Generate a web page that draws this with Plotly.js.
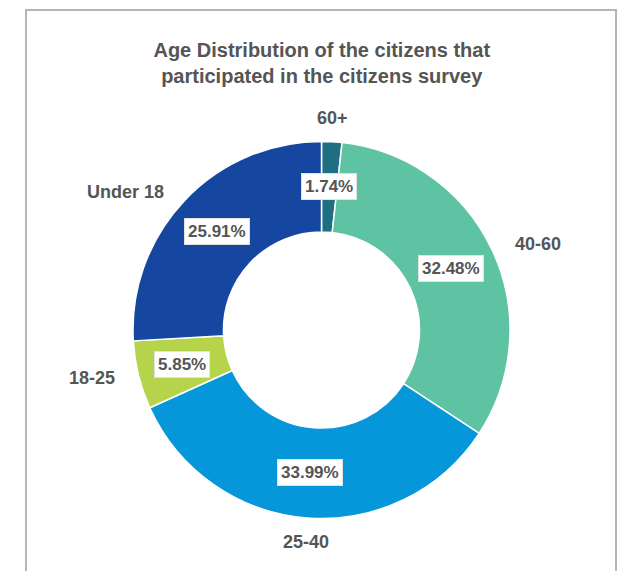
<!DOCTYPE html>
<html>
<head>
<meta charset="utf-8">
<script src="https://cdn.plot.ly/plotly-3.0.1.min.js"></script>
<style>
  html, body { margin: 0; padding: 0; background: #ffffff; }
  #chart { width: 620px; height: 571px; }
</style>
</head>
<body>
<div id="chart"></div>
<script>
// ---- Data (clockwise from 12 o'clock) ----
const ageGroups = ['60+', '40-60', '25-40', '18-25', 'Under 18'];
const sharePercent = [1.74, 32.48, 33.99, 5.85, 25.91];
const sliceColors = ['#1f6f82', '#5dc3a3', '#0597d9', '#b6d34c', '#1546a0'];

const titleText = 'Age Distribution of the citizens that<br>participated in the citizens survey';

// ---- Layout geometry / styles ----
const W = 620, H = 571;
const domainX = [0.2145, 0.8226];
const domainY = [0.0919, 0.7522];
const holeFrac = 0.52;
const labelGap = 12;
const sideShift = 10;
const textColor = '#555555';
const fontFamily = 'Liberation Sans, Arial, Helvetica, sans-serif';

const cxPx = (domainX[0] + domainX[1]) / 2 * W;
const cyPx = (domainY[0] + domainY[1]) / 2 * H;
const Rpx = Math.min((domainX[1] - domainX[0]) * W, (domainY[1] - domainY[0]) * H) / 2;
const rMid = Rpx * (1 + holeFrac) / 2;
const total = sharePercent.reduce((a, b) => a + b, 0);

const annotations = [];
let cum = 0;
sharePercent.forEach((v, i) => {
  const mid = (cum + v / 2) / total * 2 * Math.PI;
  cum += v;
  const s = Math.sin(mid), c = Math.cos(mid);
  // percentage box inside the ring
  annotations.push({
    xref: 'paper', yref: 'paper',
    x: (cxPx + rMid * s) / W,
    y: (cyPx + rMid * c) / H,
    text: v.toFixed(2) + '%',
    showarrow: false,
    xanchor: 'center', yanchor: 'middle',
    font: { family: fontFamily, size: 17, color: textColor, weight: 'bold' },
    bgcolor: '#ffffff',
    bordercolor: '#e2e2e2',
    borderwidth: 1,
    borderpad: 3
  });
  // category label outside the ring
  const rOut = Rpx + labelGap;
  const xa = s > 0.3 ? 'left' : (s < -0.3 ? 'right' : 'center');
  annotations.push({
    xref: 'paper', yref: 'paper',
    x: (cxPx + rOut * s) / W,
    y: (cyPx + rOut * c) / H,
    xshift: xa === 'left' ? sideShift : (xa === 'right' ? -sideShift : 0),
    text: ageGroups[i],
    showarrow: false,
    xanchor: xa,
    yanchor: c > 0.7 ? 'bottom' : (c < -0.7 ? 'top' : 'middle'),
    font: { family: fontFamily, size: 18, color: textColor, weight: 'bold' }
  });
});

const trace = {
  type: 'pie',
  labels: ageGroups,
  values: sharePercent,
  sort: false,
  direction: 'clockwise',
  rotation: 0,
  hole: holeFrac,
  domain: { x: domainX, y: domainY },
  marker: { colors: sliceColors, line: { color: '#ffffff', width: 1.5 } },
  textinfo: 'none',
  showlegend: false,
  hoverinfo: 'label+percent'
};

const layout = {
  width: W, height: H,
  margin: { l: 0, r: 0, t: 0, b: 0 },
  paper_bgcolor: '#ffffff',
  title: {
    text: titleText,
    x: 0.519, xanchor: 'center',
    y: 1 - 56.5 / H, yanchor: 'middle',
    font: { family: fontFamily, size: 20, color: textColor, weight: 'bold' }
  },
  annotations: annotations,
  shapes: [{
    type: 'rect', xref: 'paper', yref: 'paper',
    x0: 26 / W, x1: 616 / W, y0: -0.05, y1: 1 - 10 / H,
    line: { color: '#b5b5b5', width: 2 },
    fillcolor: 'rgba(0,0,0,0)'
  }]
};

Plotly.newPlot('chart', [trace], layout, { displayModeBar: false, staticPlot: true });
</script>
</body>
</html>
